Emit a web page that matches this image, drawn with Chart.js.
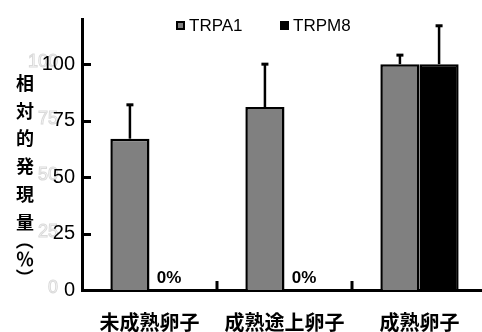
<!DOCTYPE html>
<html>
<head>
<meta charset="utf-8">
<script src="https://cdn.jsdelivr.net/npm/chart.js@4.4.1/dist/chart.umd.min.js"></script>
<style>
  html, body { margin: 0; padding: 0; background: #fff; overflow: hidden; }
  #wrap { width: 490px; height: 332px; }
</style>
</head>
<body>
<div id="wrap"><canvas id="c" width="490" height="332"></canvas></div>
<script>
const CATEGORIES = ['未成熟卵子', '成熟途上卵子', '成熟卵子'];
const TRPA1 = [67, 81, 100];
const TRPA1_ERR = [15, 19, 4];
const TRPM8 = [0, 0, 100];
const TRPM8_ERR = [0, 0, 17];
const Y_TICKS = [0, 25, 50, 75, 100];
const Y_TITLE = ['相', '対', '的', '発', '現', '量', '（', '％', '）'];

const CJK = '"Noto Sans CJK JP", "Noto Sans CJK SC", sans-serif';
const LAT = '"Liberation Sans", Arial, sans-serif';

// error bars + zero labels, drawn off the dataset elements
const barExtras = {
  id: 'barExtras',
  afterDatasetsDraw(chart) {
    const ctx = chart.ctx;
    const y = chart.scales.y;
    const errs = [TRPA1_ERR, TRPM8_ERR];
    ctx.save();
    ctx.fillStyle = '#000';
    ctx.strokeStyle = '#000';
    chart.data.datasets.forEach((ds, i) => {
      chart.getDatasetMeta(i).data.forEach((bar, j) => {
        const v = ds.data[j], e = errs[i][j];
        if (e > 0) {
          const top = y.getPixelForValue(v + e);
          ctx.lineWidth = 2.5;
          ctx.beginPath();
          ctx.moveTo(bar.x, bar.y);
          ctx.lineTo(bar.x, top);
          ctx.stroke();
          ctx.fillRect(bar.x - 3.5, top - 1.5, 7, 3);
        }
        if (v === 0) {
          ctx.font = 'bold 17px ' + LAT;
          ctx.textAlign = 'center';
          ctx.textBaseline = 'alphabetic';
          ctx.fillText('0%', bar.x, y.getPixelForValue(0) - 7);
        }
      });
    });
    ctx.restore();
  }
};

// inward tick marks, faint ghost labels, stacked y title, legend
const decor = {
  id: 'decor',
  beforeDraw(chart) {
    const ctx = chart.ctx;
    const y = chart.scales.y;
    ctx.save();
    ctx.font = '18px ' + LAT;
    ctx.strokeStyle = '#dadada';
    ctx.lineWidth = 1;
    ctx.textAlign = 'right';
    ctx.textBaseline = 'middle';
    Y_TICKS.forEach(v => ctx.strokeText(String(v), 58, y.getPixelForValue(v) - 2));
    ctx.restore();
  },
  afterDraw(chart) {
    const ctx = chart.ctx;
    const { x, y } = chart.scales;
    const area = chart.chartArea;
    ctx.save();
    ctx.strokeStyle = '#000';
    ctx.lineWidth = 3;
    ctx.beginPath();
    Y_TICKS.filter(v => v > 0).forEach(v => {
      const py = Math.round(y.getPixelForValue(v)) + 0.5;
      ctx.moveTo(area.left, py);
      ctx.lineTo(area.left + 9, py);
    });
    for (let i = 0; i < CATEGORIES.length - 1; i++) {
      const px = (x.getPixelForTick(i) + x.getPixelForTick(i + 1)) / 2;
      ctx.moveTo(px, area.bottom);
      ctx.lineTo(px, area.bottom - 9);
    }
    ctx.stroke();

    // vertical axis title, brackets turned for vertical writing
    ctx.fillStyle = '#000';
    ctx.font = 'bold 18px ' + CJK;
    ctx.textAlign = 'center';
    ctx.textBaseline = 'middle';
    let ty = 83;
    Y_TITLE.forEach((ch, i) => {
      if (ch === '（' || ch === '）') {
        ctx.save();
        ctx.translate(25, ty);
        ctx.rotate(Math.PI / 2);
        ctx.fillText(ch, 0, 0);
        ctx.restore();
      } else {
        ctx.fillText(ch, 25, ty);
      }
      ty += i < 5 ? 27.8 : 18.5;
    });

    // legend
    const items = [
      { label: 'TRPA1', color: '#808080', x: 176 },
      { label: 'TRPM8', color: '#000000', x: 280 }
    ];
    ctx.font = '17px ' + LAT;
    ctx.textAlign = 'left';
    ctx.textBaseline = 'middle';
    items.forEach(it => {
      ctx.fillStyle = '#000';
      ctx.fillRect(it.x, 21, 9, 9);
      ctx.fillStyle = it.color;
      ctx.fillRect(it.x + 2, 23, 5, 5);
      ctx.fillStyle = '#000';
      ctx.fillText(it.label, it.x + 13, 26);
    });
    ctx.restore();
  }
};

new Chart(document.getElementById('c'), {
  type: 'bar',
  data: {
    labels: CATEGORIES,
    datasets: [
      { label: 'TRPA1', data: TRPA1, backgroundColor: '#808080', borderColor: '#000', borderWidth: 2.5 },
      { label: 'TRPM8', data: TRPM8, backgroundColor: '#000000', borderColor: '#000', borderWidth: 2.5 }
    ]
  },
  options: {
    responsive: false,
    animation: false,
    layout: { padding: { left: 0, right: 3, top: 16, bottom: 0 } },
    datasets: { bar: { categoryPercentage: 0.58, barPercentage: 1.0 } },
    plugins: { legend: { display: false }, tooltip: { enabled: false } },
    scales: {
      x: {
        grid: { display: false, drawTicks: false },
        border: { display: true, color: '#000', width: 3 },
        ticks: { color: '#000', padding: 20, font: { family: CJK, size: 20, weight: 'bold' } },
        afterFit: s => { s.height = 42; }
      },
      y: {
        min: 0, max: 120,
        grid: { display: false, drawTicks: false },
        border: { display: true, color: '#000', width: 3 },
        ticks: { color: '#000', padding: 7, font: { family: LAT, size: 20 } },
        afterBuildTicks: s => { s.ticks = Y_TICKS.map(v => ({ value: v })); },
        afterFit: s => { s.width = 82; }
      }
    }
  },
  plugins: [barExtras, decor]
});
</script>
</body>
</html>
